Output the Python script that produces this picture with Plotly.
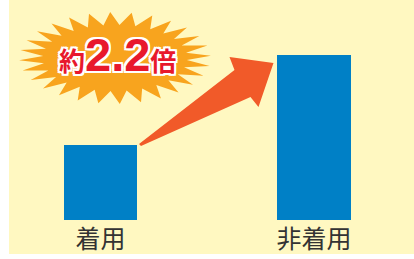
import math
import plotly.graph_objects as go

# ---- data ----
categories = ["着用", "非着用"]
values = [1.0, 2.2]
callout_text = "約2.2倍"

# ---- geometry / style ----
W, H = 414, 259
MB = 39                      # bottom margin -> axis line at y=220px
PLOT_H = H - MB
X_RANGE = [-0.4707, 1.4684]
Y_RANGE = [0, 2.9333]
BAR_W = 0.342
XU = W / (X_RANGE[1] - X_RANGE[0])      # px per x unit
YU = PLOT_H / (Y_RANGE[1] - Y_RANGE[0])  # px per y unit

BG_YELLOW = "#FFF8C1"
BAR_BLUE = "#0080C6"
ARROW = "#F15A29"
BURST = "#F8A41E"
RED = "#E8182C"


def px2d(px, py):
    return X_RANGE[0] + px / XU, Y_RANGE[0] + (PLOT_H - py) / YU


def d2px(x, y):
    return (x - X_RANGE[0]) * XU, PLOT_H - (y - Y_RANGE[0]) * YU


def path_from_px(pts):
    s = ""
    for i, (px, py) in enumerate(pts):
        x, y = px2d(px, py)
        s += ("M" if i == 0 else "L") + f"{x:.4f},{y:.4f} "
    return s + "Z"


xs = list(range(len(categories)))

fig = go.Figure()
fig.add_trace(go.Bar(
    x=xs, y=values, width=BAR_W,
    marker=dict(color=BAR_BLUE, line=dict(width=0)),
    hoverinfo="skip", showlegend=False,
))

shapes = []
# yellow panel background
shapes.append(dict(type="rect", xref="paper", yref="paper",
                   x0=9 / W, x1=1.0, y0=(PLOT_H - 254) / PLOT_H, y1=1.0,
                   fillcolor=BG_YELLOW, line=dict(width=0), layer="below"))

# arrow from top of bar 1 toward top of bar 2
b1x, b1y = d2px(xs[0] + BAR_W / 2, values[0])   # top-right corner of bar 1
b2x, b2y = d2px(xs[1] - BAR_W / 2, values[1])   # top-left corner of bar 2
arrow_pts = [
    (b1x + 2, b1y - 1),          # tail
    (b2x - 43, b2y + 15),        # upper notch
    (b2x - 48, b2y + 2),         # upper barb
    (b2x - 4, b2y + 8),          # tip
    (b2x - 19, b2y + 52),        # lower barb
    (b2x - 27, b2y + 42),        # lower notch
    (b1x + 4, b1y + 1),
]
shapes.append(dict(type="path", xref="x", yref="y", path=path_from_px(arrow_pts),
                   fillcolor=ARROW, line=dict(width=0), layer="above"))

# starburst
cx, cy = 115, 58
n = 28
pts = []
for i in range(2 * n):
    a = math.pi * i / n + 0.05
    if i % 2 == 0:
        rx, ry = 96, 46
    else:
        rx, ry = 72, 33
    pts.append((cx + rx * math.cos(a), cy - ry * math.sin(a)))
shapes.append(dict(type="path", xref="x", yref="y", path=path_from_px(pts),
                   fillcolor=BURST, line=dict(width=0), layer="above"))

ax_x, ax_y = px2d(cx + 2, cy - 4)
outline = ",".join(f"{dx}px {dy}px 0 #FFFFFF" for dx, dy in
                   [(2, 0), (-2, 0), (0, 2), (0, -2), (2, 2), (-2, 2), (2, -2), (-2, -2)])
txt = (f"<b><span style='font-size:26px'>{callout_text[0]}</span>"
       f"{callout_text[1:-1]}"
       f"<span style='font-size:26px'>{callout_text[-1]}</span></b>")

fig.update_layout(
    width=W, height=H,
    margin=dict(l=0, r=0, t=0, b=MB, pad=0),
    paper_bgcolor="white",
    plot_bgcolor="rgba(0,0,0,0)",
    shapes=shapes,
    annotations=[dict(x=ax_x, y=ax_y, xref="x", yref="y", text=txt, showarrow=False,
                      xanchor="center", yanchor="middle",
                      font=dict(size=47, color=RED, family="Liberation Sans, Noto Sans CJK JP",
                                shadow=outline))],
    xaxis=dict(range=X_RANGE, tickvals=xs, ticktext=categories, showgrid=False,
               zeroline=False, showline=False, ticks="", fixedrange=True,
               ticklabelstandoff=2,
               tickfont=dict(size=25, color="#333333", family="Noto Sans CJK JP")),
    yaxis=dict(range=Y_RANGE, visible=False, showgrid=False, zeroline=False, fixedrange=True),
    bargap=0,
)

fig.write_html("out.html", config={"displayModeBar": False},
               post_script="document.body.style.margin='0';document.body.style.overflow='hidden';")
